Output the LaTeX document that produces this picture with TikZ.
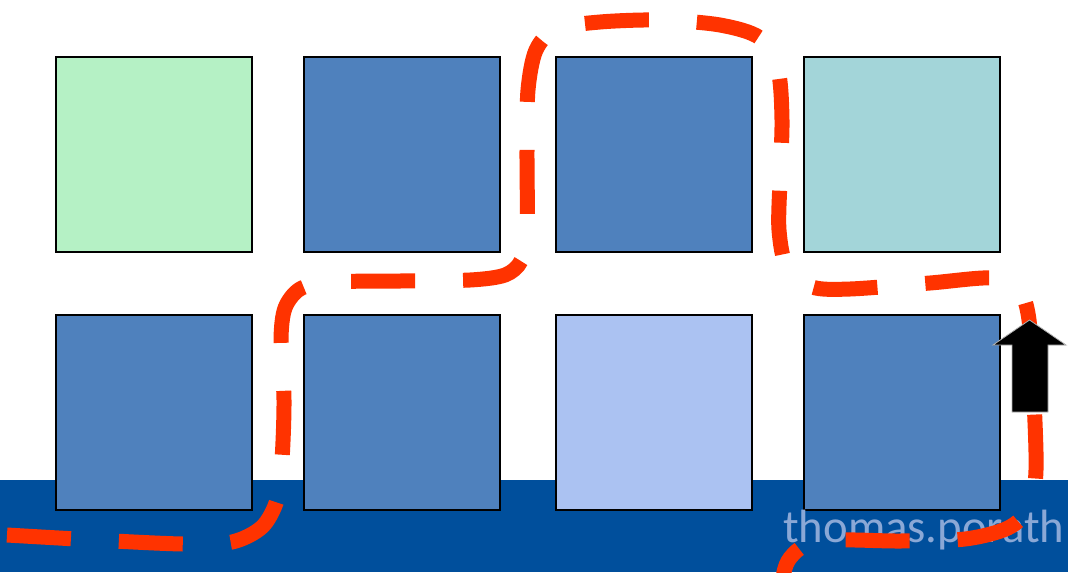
\documentclass[tikz,border=0pt]{standalone}
\usepackage{fontspec}
\newfontfamily\wmfont{Carlito}
\definecolor{sqblue}{HTML}{4F81BD}
\definecolor{sqgreen}{HTML}{B5F1C5}
\definecolor{sqteal}{HTML}{A3D5D9}
\definecolor{sqlight}{HTML}{ABC2F2}
\definecolor{band}{HTML}{004F9C}
\definecolor{wmark}{HTML}{8AA8D6}
\definecolor{route}{HTML}{FF3300}
\tikzset{
  sq/.style={draw=black, line width=1.5pt, minimum width=147pt, minimum height=146.25pt, inner sep=0pt, outer sep=0pt},
  routeline/.style={draw=route, line width=11.25pt, dash pattern=on 48pt off 36pt},
  blockarrow/.style={fill=black, draw=gray!60, line width=0.6pt}
}
\begin{document}
\begin{tikzpicture}[x=0.75pt, y=-0.75pt]
\useasboundingbox (0,0) rectangle (1068,572);
\clip (0,0) rectangle (1068,572);
\fill[white] (0,0) rectangle (1068,572);
\fill[band] (0,480) rectangle (1068,572);
% squares
\node[sq, fill=sqgreen] (a1) at (154,154.5) {};
\node[sq, fill=sqblue]  (a2) at (402,154.5) {};
\node[sq, fill=sqblue]  (a3) at (654,154.5) {};
\node[sq, fill=sqteal]  (a4) at (902,154.5) {};
\node[sq, fill=sqblue]  (b1) at (154,412.5) {};
\node[sq, fill=sqblue]  (b2) at (402,412.5) {};
\node[sq, fill=sqlight] (b3) at (654,412.5) {};
\node[sq, fill=sqblue]  (b4) at (902,412.5) {};
% watermark
\node[anchor=base west, inner sep=0pt, text=wmark, font=\wmfont\fontsize{35pt}{40pt}\selectfont] (wm) at (783,542) {thomas.porath};
% dashed route
\draw[routeline] plot[smooth, tension=0.5] coordinates {
 (7,535) (95,540) (183,544) (232,542) (262,527) (277,500) (282,460) (284,400)
 (281,340) (285,308) (300,289) (330,282) (400,281) (470,280) (505,275) (521,261)
 (527,230) (527,150) (528,90) (536,50) (556,29) (600,22) (660,20) (720,25)
 (760,38) (778,70) (782,120) (780,180) (779,230) (787,268) (812,287) (850,289)
 (930,283) (992,278) (1019,290) (1029,320) (1034,400) (1036,470) (1030,507)
 (1008,528) (965,539) (900,541) (840,540) (806,545) (790,558) (784,572) (783,590)};
% arrow
\draw[blockarrow] (1029.5,320) -- (1066,345) -- (1048,345) -- (1048,412) -- (1012,412) -- (1012,345) -- (993,345) -- cycle;
\end{tikzpicture}
\end{document}
